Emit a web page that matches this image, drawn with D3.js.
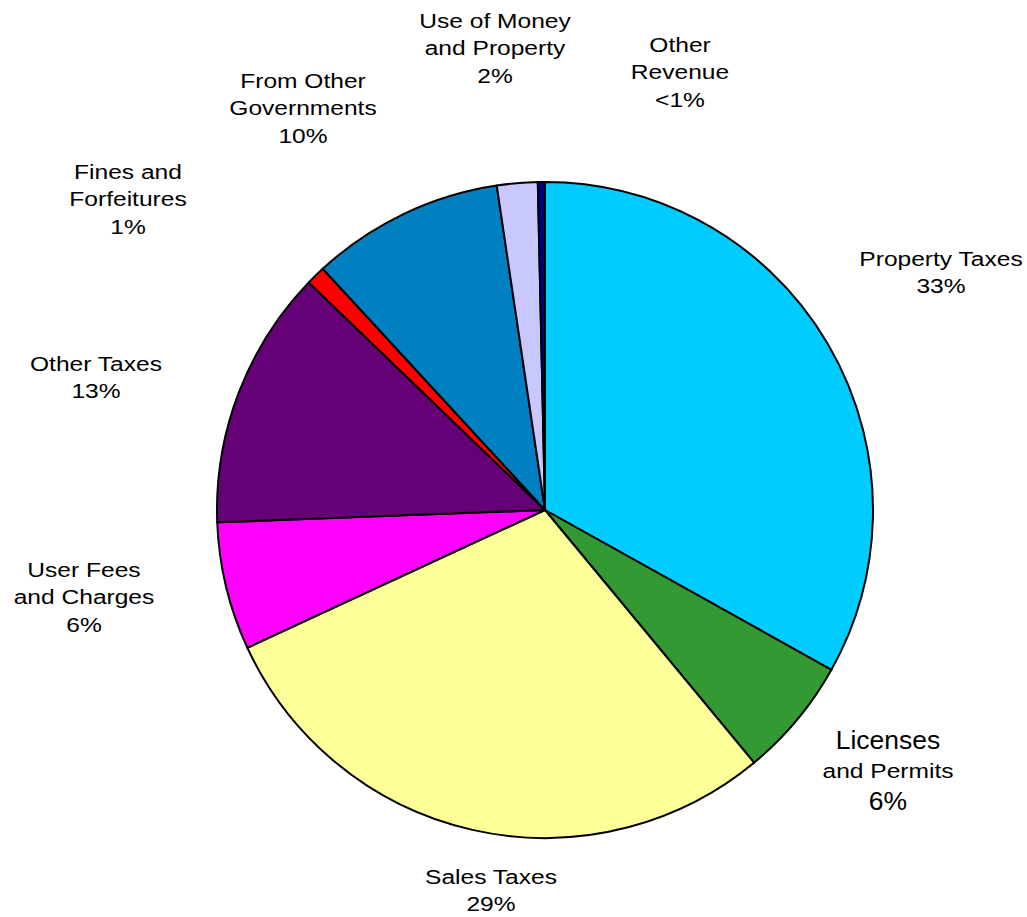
<!DOCTYPE html>
<html>
<head>
<meta charset="utf-8">
<script src="https://cdn.jsdelivr.net/npm/d3@7"></script>
<style>
  body { margin: 0; background: #fff; }
  text { font-family: "Liberation Sans", Arial, sans-serif; fill: #000; }
</style>
</head>
<body>
<div id="chart"></div>
<script>
// Revenue sources, clockwise from 12 o'clock
var categories = ["Property Taxes", "Licenses and Permits", "Sales Taxes", "User Fees and Charges",
  "Other Taxes", "Fines and Forfeitures", "From Other Governments", "Use of Money and Property", "Other Revenue"]
var shares = [33.1, 5.9, 29.1, 6.3, 12.8, 0.95, 9.5, 2.0, 0.35]
var pctLabels = ["33%", "6%", "29%", "6%", "13%", "1%", "10%", "2%", "<1%"]
// how each label is broken into lines
var labelLines = [
  ["Property Taxes"],
  ["Licenses", "and Permits"],
  ["Sales Taxes"],
  ["User Fees", "and Charges"],
  ["Other Taxes"],
  ["Fines and", "Forfeitures"],
  ["From Other", "Governments"],
  ["Use of Money", "and Property"],
  ["Other", "Revenue"]
]
var colors = ["#00CCFF", "#339933", "#FFFF99", "#FF00FF", "#660077", "#FF0000", "#0080C0", "#C8C8FF", "#000080"]

// label block centres, offset from pie centre
var labelOffset = [[396, -238], [343, 261], [-54, 380], [-461, 87], [-449, -133],
  [-417, -311], [-242, -402], [-50, -462], [135, -438]]

var width = 1027, height = 917
var cx = 545, cy = 510, radius = 328
var lineH = 27.5

var svg = d3.select("#chart").append("svg")
  .attr("width", width)
  .attr("height", height)

var g = svg.append("g")
  .attr("transform", "translate(" + cx + "," + cy + ")")

var data = categories.map(function(c, i) {
  return { name: c, value: shares[i], pct: pctLabels[i], lines: labelLines[i], color: colors[i], off: labelOffset[i] }
})

var pie = d3.pie()
  .sort(null)
  .value(function(d) { return d.value })

var arc = d3.arc()
  .innerRadius(0)
  .outerRadius(radius)

g.selectAll("path.slice")
  .data(pie(data))
  .enter()
  .append("path")
    .attr("class", "slice")
    .attr("d", arc)
    .attr("fill", function(d) { return d.data.color })
    .attr("stroke", "#000")
    .attr("stroke-width", 2)
    .attr("stroke-linejoin", "round")

// labels (text in the original is a bit wider than Arial, so stretch it)
var labels = g.selectAll("g.label")
  .data(data)
  .enter()
  .append("g")
    .attr("class", "label")
    .attr("transform", function(d) { return "translate(" + d.off[0] + "," + d.off[1] + ")" })

labels.each(function(d) {
  var lg = d3.select(this)
  var all = d.lines.concat([d.pct])
  var n = all.length
  var big = d.name === "Licenses and Permits"
  all.forEach(function(line, i) {
    var size = 21, sx = 1.17
    if (big && (i === 0 || i === n - 1)) { size = 25; sx = 1.06 }
    var y = (i - (n - 1) / 2) * (big ? 30.5 : lineH)
    lg.append("text")
      .attr("text-anchor", "middle")
      .attr("transform", "translate(0," + y + ") scale(" + sx + ",1)")
      .attr("dy", "0.35em")
      .style("font-size", size + "px")
      .text(line)
  })
})
</script>
</body>
</html>
